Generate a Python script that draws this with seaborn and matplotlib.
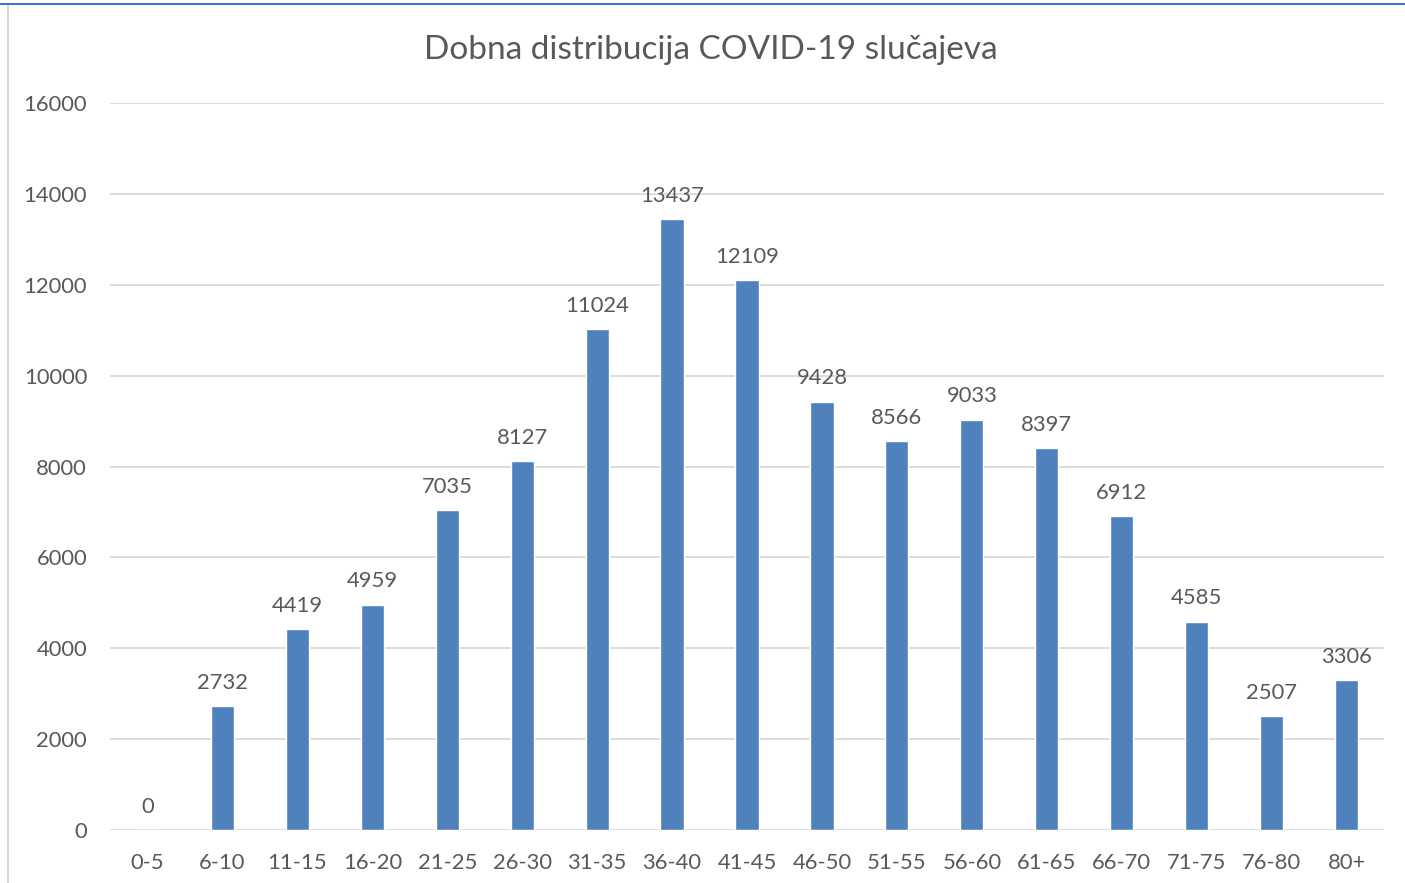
import matplotlib
matplotlib.use("Agg")
import matplotlib.pyplot as plt
from matplotlib.lines import Line2D
import seaborn as sns
import pandas as pd

# Age groups and case counts
age_groups = ["0-5", "6-10", "11-15", "16-20", "21-25", "26-30", "31-35", "36-40",
              "41-45", "46-50", "51-55", "56-60", "61-65", "66-70", "71-75", "76-80", "80+"]
cases = [0, 2732, 4419, 4959, 7035, 8127, 11024, 13437,
         12109, 9428, 8566, 9033, 8397, 6912, 4585, 2507, 3306]
y_ticks = [0, 2000, 4000, 6000, 8000, 10000, 12000, 14000, 16000]

TEXT = "#595959"
BAR = "#4F81BD"
GRID = "#D9D9D9"

sns.set_style("white")
plt.rcParams["font.family"] = ["Lato", "DejaVu Sans"]

df = pd.DataFrame({"age": age_groups, "cases": cases})

fig = plt.figure(figsize=(14.05, 8.83), dpi=100)
ax = fig.add_axes([110 / 1405, 53 / 883, 1274 / 1405, 727 / 883])

sns.barplot(data=df, x="age", y="cases", color=BAR, saturation=1, width=0.31,
            ax=ax, zorder=3)

ax.set_ylim(0, 16000)
ax.set_yticks(y_ticks)
ax.yaxis.grid(True, color=GRID, linewidth=1.3, zorder=0)
ax.set_axisbelow(True)
for s in ax.spines.values():
    s.set_visible(False)
ax.tick_params(axis="both", length=0, colors=TEXT, labelsize=15.8)
ax.tick_params(axis="y", pad=16.5)
ax.tick_params(axis="x", pad=16.5)
ax.set_xlabel("")
ax.set_ylabel("")
ax.set_xlim(-0.5, len(age_groups) - 0.5)

for i, v in enumerate(cases):
    ax.annotate(str(v), (i, v), xytext=(0, 9.5), textcoords="offset points",
                ha="center", va="bottom", color=TEXT, fontsize=15.8)

fig.text(0.5057, 1 - 50 / 883, "Dobna distribucija COVID-19 slučajeva",
         ha="center", va="center", color=TEXT, fontsize=24)

# screenshot frame: blue top line and grey left border
fig.add_artist(Line2D([0, 1], [1 - 4 / 883, 1 - 4 / 883], color="#4472C4", linewidth=1.5))
fig.add_artist(Line2D([8 / 1405, 8 / 1405], [0, 1 - 6 / 883], color="#D0D0D0", linewidth=1.2))

fig.savefig("out.png", dpi=100)
